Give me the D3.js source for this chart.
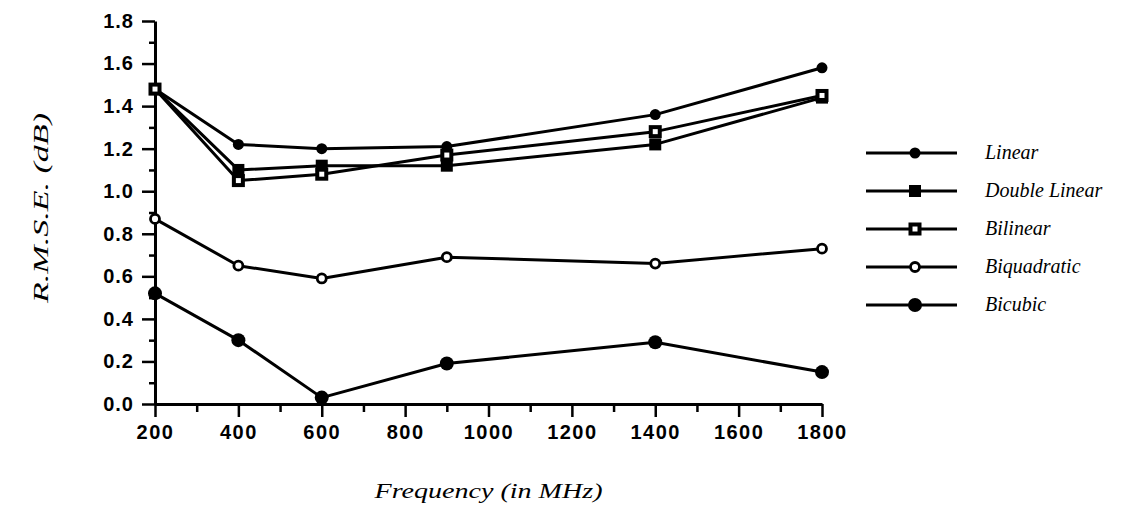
<!DOCTYPE html>
<html>
<head>
<meta charset="utf-8">
<script src="https://cdn.jsdelivr.net/npm/d3@7"></script>
<style>
  html, body { margin: 0; padding: 0; background: #fff; }
  svg { display: block; }
  .tick text { font-family: "Liberation Sans", Arial, sans-serif; font-weight: bold; font-size: 20px; fill: #000; }
  .ttl { font-family: "Liberation Serif", "Times New Roman", serif; font-style: italic; fill: #000; }
</style>
</head>
<body>
<svg id="chart" width="1130" height="506"></svg>
<script>
// ---- data ----
const frequencies = [200, 400, 600, 900, 1400, 1800];
const seriesNames = ["Linear", "Double Linear", "Bilinear", "Biquadratic", "Bicubic"];
const linearVals       = [1.48, 1.22, 1.20, 1.21, 1.36, 1.58];
const doubleLinearVals = [1.48, 1.10, 1.12, 1.12, 1.22, 1.44];
const bilinearVals     = [1.48, 1.05, 1.08, 1.17, 1.28, 1.45];
const biquadraticVals  = [0.87, 0.65, 0.59, 0.69, 0.66, 0.73];
const bicubicVals      = [0.52, 0.30, 0.03, 0.19, 0.29, 0.15];
const xTickValues = [200, 400, 600, 800, 1000, 1200, 1400, 1600, 1800];
const xTickLabels = ["200", "400", "600", "800", "1000", "1200", "1400", "1600", "1800"];
const xMinorTicks = [300, 500, 700, 900, 1100, 1300, 1500, 1700];
const yTickValues = [0, 0.2, 0.4, 0.6, 0.8, 1.0, 1.2, 1.4, 1.6, 1.8];
const yTickLabels = ["0.0", "0.2", "0.4", "0.6", "0.8", "1.0", "1.2", "1.4", "1.6", "1.8"];
const yMinorTicks = [0.1, 0.3, 0.5, 0.7, 0.9, 1.1, 1.3, 1.5, 1.7];
const xTitle = "Frequency (in MHz)";
const yTitle = "R.M.S.E. (dB)";

const seriesValues = [linearVals, doubleLinearVals, bilinearVals, biquadraticVals, bicubicVals];
const markerTypes = ["dot", "fsquare", "osquare", "ocircle", "bigdot"];

// ---- layout ----
const svg = d3.select("#chart");
const x = d3.scaleLinear().domain([200, 1800]).range([155, 822]);
const y = d3.scaleLinear().domain([0, 1.8]).range([404, 21]);

function styleAxis(g) {
  g.select(".domain").attr("stroke", "#000").attr("stroke-width", 3);
  g.selectAll(".tick line").attr("stroke", "#000").attr("stroke-width", 2.5);
}

// minor ticks
svg.append("g").attr("transform", `translate(0,${y(0)})`)
  .call(d3.axisBottom(x).tickValues(xMinorTicks).tickSize(8).tickSizeOuter(0).tickFormat(""))
  .call(styleAxis).select(".domain").remove();
svg.append("g").attr("transform", `translate(${x(200)},0)`)
  .call(d3.axisLeft(y).tickValues(yMinorTicks).tickSize(6).tickSizeOuter(0).tickFormat(""))
  .call(styleAxis).select(".domain").remove();

// major axes
const gx = svg.append("g").attr("transform", `translate(0,${y(0)})`)
  .call(d3.axisBottom(x).tickValues(xTickValues).tickSize(13).tickSizeOuter(0).tickPadding(8)
        .tickFormat((d, i) => xTickLabels[i]))
  .call(styleAxis);
gx.selectAll(".tick text").attr("letter-spacing", "1.5px");

const gy = svg.append("g").attr("transform", `translate(${x(200)},0)`)
  .call(d3.axisLeft(y).tickValues(yTickValues).tickSize(13).tickSizeOuter(0).tickPadding(8)
        .tickFormat((d, i) => yTickLabels[i]))
  .call(styleAxis);
gy.selectAll(".tick text").attr("letter-spacing", "1px");

// ---- lines ----
const line = d3.line().x(d => x(d[0])).y(d => y(d[1]));
seriesValues.forEach(vals => {
  svg.append("path")
    .datum(frequencies.map((f, i) => [f, vals[i]]))
    .attr("d", line)
    .attr("fill", "none").attr("stroke", "#000").attr("stroke-width", 3)
    .attr("stroke-linejoin", "round");
});

function drawMarker(g, type, cx, cy) {
  if (type === "dot") {
    g.append("circle").attr("cx", cx).attr("cy", cy).attr("r", 5.5).attr("fill", "#000");
  } else if (type === "bigdot") {
    g.append("circle").attr("cx", cx).attr("cy", cy).attr("r", 7).attr("fill", "#000");
  } else if (type === "fsquare") {
    g.append("rect").attr("x", cx - 6).attr("y", cy - 6).attr("width", 12).attr("height", 12).attr("fill", "#000");
  } else if (type === "osquare") {
    g.append("rect").attr("x", cx - 4.5).attr("y", cy - 4.5).attr("width", 9).attr("height", 9)
      .attr("fill", "#fff").attr("stroke", "#000").attr("stroke-width", 4);
  } else if (type === "ocircle") {
    g.append("circle").attr("cx", cx).attr("cy", cy).attr("r", 4.5)
      .attr("fill", "#fff").attr("stroke", "#000").attr("stroke-width", 2.8);
  }
}

const markerG = svg.append("g");
[4, 3, 0, 1, 2].forEach(si => {
  frequencies.forEach((f, i) => drawMarker(markerG, markerTypes[si], x(f), y(seriesValues[si][i])));
});

// ---- legend ----
const legendRows = [153, 191, 229, 267, 305];
const legend = svg.append("g");
seriesNames.forEach((name, i) => {
  const ly = legendRows[i];
  legend.append("line").attr("x1", 866).attr("x2", 957).attr("y1", ly).attr("y2", ly)
    .attr("stroke", "#000").attr("stroke-width", 3);
  drawMarker(legend, markerTypes[i], 915, ly);
  legend.append("text").attr("class", "ttl").attr("x", 985).attr("y", ly + 6)
    .attr("font-size", 20).text(name);
});

// ---- titles ----
svg.append("text").attr("class", "ttl")
  .attr("x", (x(200) + x(1800)) / 2).attr("y", 498)
  .attr("text-anchor", "middle").attr("font-size", 21)
  .attr("textLength", 228).attr("lengthAdjust", "spacingAndGlyphs")
  .text(xTitle);

svg.append("text").attr("class", "ttl")
  .attr("transform", `translate(48,208) rotate(-90)`)
  .attr("text-anchor", "middle").attr("font-size", 21)
  .attr("textLength", 190).attr("lengthAdjust", "spacingAndGlyphs")
  .text(yTitle);
</script>
</body>
</html>
